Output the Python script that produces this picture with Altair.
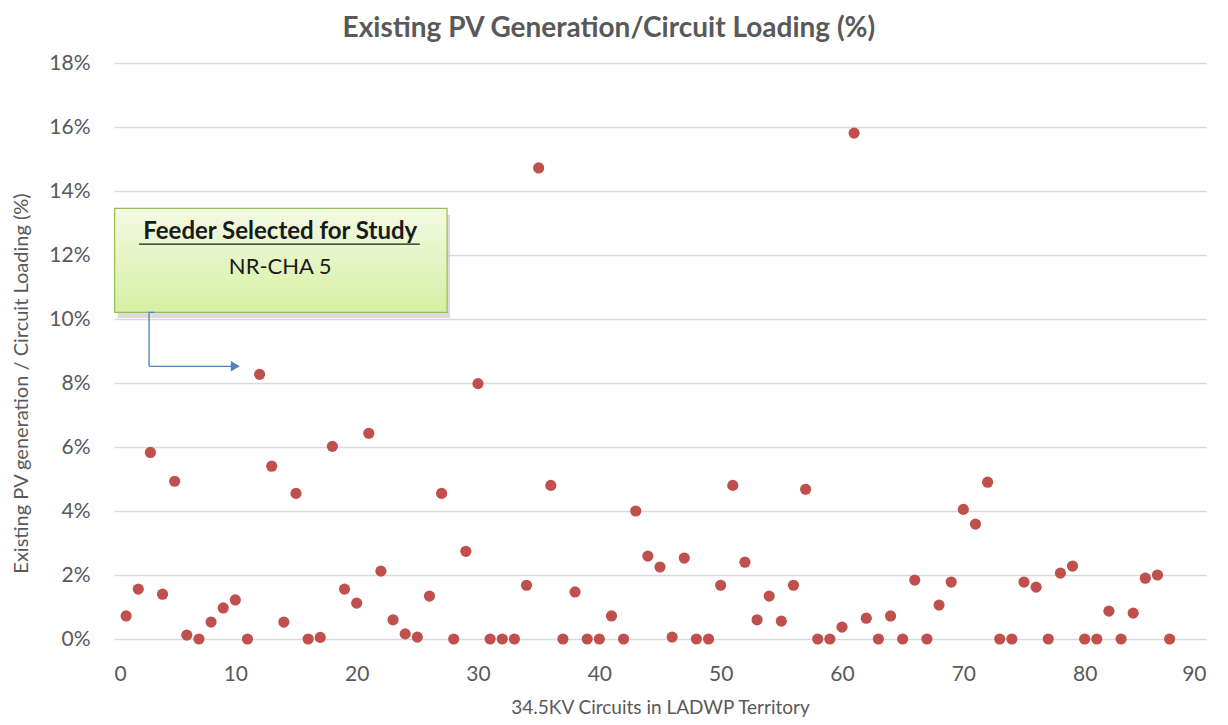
import altair as alt
import pandas as pd

# ---- data ----
circuit = list(range(1, 88))
pv_pct = [
    0.72, 1.56, 5.83, 1.40, 4.93, 0.12, 0.00, 0.53, 0.97, 1.22,
    0.00, 8.27, 5.40, 0.53, 4.55, 0.00, 0.05, 6.02, 1.56, 1.12,
    6.43, 2.12, 0.60, 0.16, 0.06, 1.34, 4.55, 0.00, 2.74, 7.98,
    0.00, 0.00, 0.00, 1.68, 14.72, 4.80, 0.00, 1.47, 0.00, 0.00,
    0.72, 0.00, 4.00, 2.59, 2.25, 0.06, 2.53, 0.00, 0.00, 1.68,
    4.80, 2.40, 0.60, 1.34, 0.56, 1.68, 4.68, 0.00, 0.00, 0.37,
    15.81, 0.65, 0.00, 0.72, 0.00, 1.84, 0.00, 1.06, 1.78, 4.05,
    3.59, 4.90, 0.00, 0.00, 1.78, 1.62, 0.00, 2.06, 2.28, 0.00,
    0.00, 0.87, 0.00, 0.81, 1.90, 2.00, 0.00,
]

title_text = "Existing PV Generation/Circuit Loading (%)"
x_title = "34.5KV Circuits in LADWP Territory"
y_title = "Existing PV generation / Circuit Loading (%)"
callout_head = "Feeder Selected for Study"
callout_sub = "NR-CHA 5"

FONT = "Lato"
GREY = "#595959"

df = pd.DataFrame({"circuit": circuit, "pv": pv_pct})

xs = alt.Scale(domain=[0, 90], nice=False)
ys = alt.Scale(domain=[0, 18], nice=False)

points = alt.Chart(df).mark_circle(size=125, opacity=1, color="#C0504D").encode(
    x=alt.X("circuit:Q", scale=xs,
            axis=alt.Axis(title=x_title, values=list(range(0, 91, 10)), grid=False,
                          domain=False, ticks=False, labelFontSize=21, labelColor=GREY,
                          labelFont=FONT, labelPadding=24, titleFont=FONT,
                          titleFontSize=19, titleFontWeight="normal", titleColor=GREY,
                          titlePadding=14)),
    y=alt.Y("pv:Q", scale=ys,
            axis=alt.Axis(title=y_title, values=list(range(0, 19, 2)),
                          labelExpr="datum.value + '%'", grid=True, gridColor="#D9D9D9",
                          gridWidth=1.3, domain=False, ticks=False, labelFontSize=21,
                          labelColor=GREY, labelFont=FONT, labelPadding=24,
                          titleFont=FONT, titleFontSize=20, titleFontWeight="normal",
                          titleColor=GREY, titlePadding=17, titleY=320)),
)

# ---- callout box (annotation, in data units) ----
box = pd.DataFrame({"x": [0.05], "x2": [27.45], "y": [13.46], "y2": [10.21]})
shadow = pd.DataFrame({"x": [0.3], "x2": [27.7], "y": [13.25], "y2": [10.03]})

shadow_layer = alt.Chart(shadow).mark_rect(color="#BFBFBF", opacity=0.55).encode(
    x=alt.X("x:Q", scale=xs), x2="x2:Q", y=alt.Y("y:Q", scale=ys), y2="y2:Q")

grad = alt.LinearGradient(
    gradient="linear", x1=0, y1=0, x2=0, y2=1,
    stops=[alt.GradientStop(color="#F3FAE3", offset=0),
           alt.GradientStop(color="#D6EFA4", offset=1)])

box_layer = alt.Chart(box).mark_rect(fill=grad, stroke="#9BBB59", strokeWidth=1.2).encode(
    x=alt.X("x:Q", scale=xs), x2="x2:Q", y=alt.Y("y:Q", scale=ys), y2="y2:Q")

txt = pd.DataFrame({"x": [13.7, 13.7], "y": [12.72, 11.62],
                    "t": [callout_head, callout_sub]})
head_layer = alt.Chart(txt.iloc[[0]]).mark_text(
    font=FONT, fontSize=24, fontWeight="bold", color="#1a1a1a").encode(
    x=alt.X("x:Q", scale=xs), y=alt.Y("y:Q", scale=ys), text="t:N")
sub_layer = alt.Chart(txt.iloc[[1]]).mark_text(
    font=FONT, fontSize=22, color="#1a1a1a").encode(
    x=alt.X("x:Q", scale=xs), y=alt.Y("y:Q", scale=ys), text="t:N")

underline = pd.DataFrame({"x": [2.06], "x2": [25.2], "y": [12.34]})
underline_layer = alt.Chart(underline).mark_rule(color="#1a1a1a", strokeWidth=1.4).encode(
    x=alt.X("x:Q", scale=xs), x2="x2:Q", y=alt.Y("y:Q", scale=ys))

# connector arrow
arrow = pd.DataFrame({"x": [3.35, 2.89, 2.89], "y": [10.21, 10.21, 8.52], "o": [0, 1, 2]})
arrow2 = pd.DataFrame({"x": [2.89, 9.7], "y": [8.52, 8.52], "o": [0, 1]})
arrow_line = alt.Chart(arrow).mark_line(color="#4F81BD", strokeWidth=1.3).encode(
    x=alt.X("x:Q", scale=xs), y=alt.Y("y:Q", scale=ys), order="o:Q")
arrow_line2 = alt.Chart(arrow2).mark_line(color="#4F81BD", strokeWidth=1.3).encode(
    x=alt.X("x:Q", scale=xs), y=alt.Y("y:Q", scale=ys), order="o:Q")
head = pd.DataFrame({"x": [10.0], "y": [8.52]})
arrow_head = alt.Chart(head).mark_point(shape="triangle-right", filled=True, size=110,
                                        color="#4F81BD", opacity=1).encode(
    x=alt.X("x:Q", scale=xs), y=alt.Y("y:Q", scale=ys))

chart = alt.layer(
    points, shadow_layer, box_layer, underline_layer, head_layer, sub_layer,
    arrow_line, arrow_line2, arrow_head,
).properties(
    width=1092, height=576,
    title=alt.TitleParams(title_text, font=FONT, fontSize=28, fontWeight="bold",
                          color=GREY, anchor="middle", frame="bounds", offset=9),
    autosize=alt.AutoSizeParams(type="none"),
    padding={"left": 106, "top": 55, "right": 14, "bottom": 78},
).configure_view(stroke=None)

chart.save("out.html", embed_options={"renderer": "svg", "actions": False})
